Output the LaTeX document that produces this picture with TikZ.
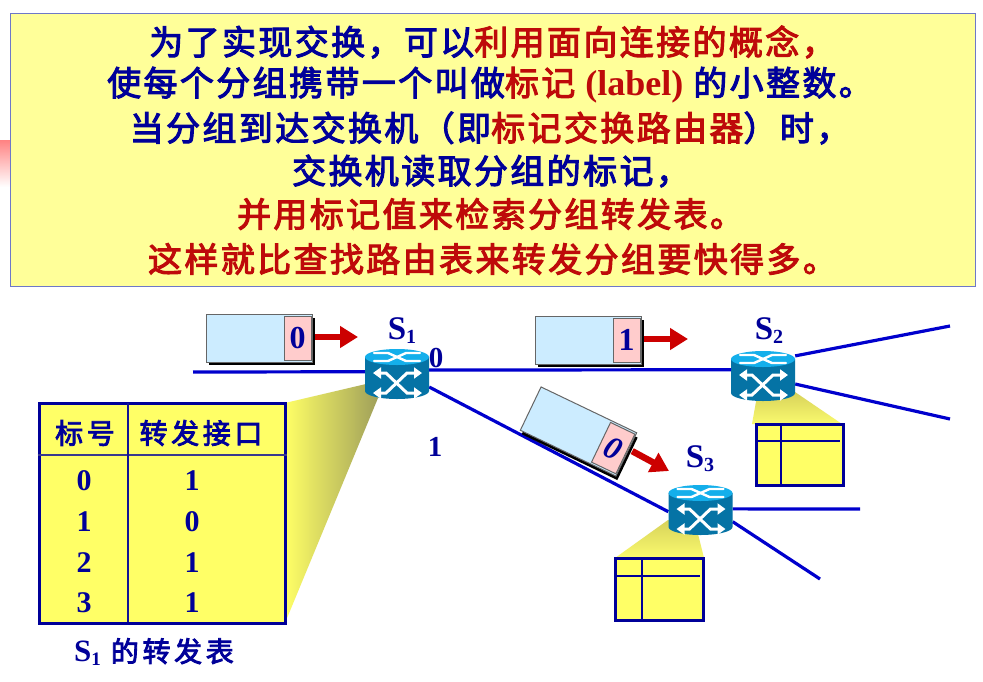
\documentclass[tikz,border=0pt]{standalone}
\usepackage{fontspec}
\setmainfont{Liberation Serif}
\newfontfamily\cjk{Noto Sans CJK SC}[LetterSpace=7,FakeBold=3]
\newfontfamily\cjkt{Noto Sans CJK SC}[LetterSpace=13,FakeBold=3]
\usetikzlibrary{arrows.meta,calc}
\definecolor{navy}{RGB}{0,0,153}
\definecolor{hl}{RGB}{190,10,10}
\definecolor{paper}{RGB}{255,255,153}
\definecolor{cellY}{RGB}{255,255,102}
\definecolor{rtop}{RGB}{20,175,235}
\definecolor{rbody}{RGB}{5,115,165}
\definecolor{wire}{RGB}{0,0,205}
\tikzset{
  x=1pt,y=-1pt,
  headline/.style={font=\cjk\fontsize{34}{34}\selectfont,text=navy,inner sep=0pt,anchor=center},
  rbox/.style={minimum width=64pt,minimum height=50pt,inner sep=0pt,draw=none},
  link/.style={draw=wire,line width=3.2pt},
  bigtab/.style={draw=navy,line width=3pt,fill=cellY},
  tabtext/.style={font=\bfseries\fontsize{30}{30}\selectfont,text=navy,inner sep=0pt},
  tabcn/.style={font=\cjkt\fontsize{28}{28}\selectfont,text=navy,inner sep=0pt},
  slabel/.style={font=\bfseries\fontsize{33}{33}\selectfont,text=navy,inner sep=0pt},
  portlabel/.style={font=\bfseries\fontsize{29}{29}\selectfont,text=navy,inner sep=0pt},
  pktarrow/.style={draw={rgb,255:red,204;green,0;blue,0},line width=6.5pt,-{Triangle[length=18pt,width=21pt]}},
  minit/.style={draw=navy,line width=3pt,fill=cellY},
  conefill/.style={top color={rgb,255:red,215;green,210;blue,90},bottom color={rgb,255:red,250;green,250;blue,110}},
}
\newcommand{\routerpic}[1]{%
  \begin{scope}[shift={(#1)}]
    \fill[rbody] (-32,-17) -- (-32,17) arc[start angle=180,end angle=360,x radius=32,y radius=-8] -- (32,-17) -- cycle;
    \fill[rtop] (0,-17) ellipse[x radius=32,y radius=8];
    \draw[white,line width=2.4pt,line cap=round] (-23,-21) -- (-9,-21) -- (9,-13) -- (23,-13);
    \draw[white,line width=2.4pt,line cap=round] (-23,-13) -- (-9,-13) -- (9,-21) -- (23,-21);
    \draw[white,line width=3pt,{Triangle[length=8pt,width=11pt]}-{Triangle[length=8pt,width=11pt]}] (-24,-1) -- (-11,-1) -- (10,19) -- (25,19);
    \draw[white,line width=3pt,{Triangle[length=8pt,width=11pt]}-{Triangle[length=8pt,width=11pt]}] (-24,19) -- (-11,19) -- (10,-1) -- (25,-1);
  \end{scope}}
\newcommand{\packet}[5]{% name, center, rotation, label, font
  \begin{scope}[shift={(#2)},rotate=#3]
    \fill[black] (-50,-20) rectangle (56,27);
    \draw[black!60,fill={rgb,255:red,204;green,236;blue,255},line width=1pt] (-53,-24) rectangle (53,24);
    \draw[black!60,fill={rgb,255:red,255;green,204;blue,204},line width=1pt] (25,-22) rectangle (52,22);
    \node[rotate=#3,font=#5,text=navy,inner sep=0pt] (#1) at (38.5,0) {#4};
  \end{scope}}
\begin{document}
\begin{tikzpicture}
\useasboundingbox (0,0) rectangle (983,681);
\fill[white] (0,0) rectangle (983,681);
% pink glow
\shade[top color={rgb,255:red,255;green,130;blue,130},bottom color=white] (0,140) rectangle (10,187);
% top panel
\node[draw={rgb,255:red,110;green,120;blue,200},fill=paper,line width=1pt,minimum width=965pt,minimum height=273.5pt,inner sep=0pt] (panel) at (492.5,150) {};
\node[headline] (t1) at (492.5,42) {为了实现交换，可以\textcolor{hl}{利用面向连接的概念，}};
\node[headline] (t2) at (490,85) {使每个分组携带一个叫做\textcolor{hl}{标记 {\rmfamily\bfseries\fontsize{36}{36}\selectfont (label)}} 的小整数。};
\node[headline] (t3) at (490,128) {当分组到达交换机（即\textcolor{hl}{标记交换路由器}）时，};
\node[headline] (t4) at (491,171) {交换机读取分组的标记，};
\node[headline,text=hl] (t5) at (490.5,214) {并用标记值来检索分组转发表。};
\node[headline,text=hl] (t6) at (492.5,259) {这样就比查找路由表来转发分组要快得多。};
% routers (placeholders)
\node[rbox] (s1) at (397,374) {};
\node[rbox] (s2) at (763,376) {};
\node[rbox] (s3) at (700.5,510) {};
% free ends
\coordinate (a) at (193,372);
\coordinate (b) at (950,326);
\coordinate (c) at (950,419);
\coordinate (d) at (860,509);
\coordinate (e) at (820,579);
% links
\draw[link] (a) -- (s1.176);
\draw[link] (s1.7) -- (s2.169);
\draw[link] (s1.-22) -- (s3.183);
\draw[link] (s2.32) -- (b);
\draw[link] (s2.-14) -- (c);
\draw[link] (s3.2) -- (d);
\draw[link] (s3.-20) -- (e);
% big table cone
\shade[left color=cellY,right color={rgb,255:red,160;green,160;blue,90}] (285,403) -- (366,384) -- (378,398) -- (285,623) -- cycle;
% mini cones
\shade[conefill] (752,424) -- (757,396) -- (795,392) -- (842,424) -- cycle;
\shade[conefill] (615,558) -- (668,520) -- (697,530) -- (704,558) -- cycle;
\routerpic{397,374}
\routerpic{763,376}
\routerpic{700.5,510}
\node[slabel] (ls1) at (402,331) {S\raisebox{-4pt}{\fontsize{20}{20}\selectfont 1}};
\node[slabel] (ls2) at (769,331) {S\raisebox{-4pt}{\fontsize{20}{20}\selectfont 2}};
\node[slabel] (ls3) at (700,459) {S\raisebox{-4pt}{\fontsize{20}{20}\selectfont 3}};
\node[portlabel] (p0) at (436,358) {0};
\node[portlabel] (p1) at (435,447) {1};
% packets
\packet{k1}{259,338}{0}{0}{\bfseries\fontsize{32}{32}\selectfont}
\packet{k2}{588,340}{0}{1}{\bfseries\fontsize{32}{32}\selectfont}
\packet{k3}{578.5,431.5}{-25.6}{0}{\bfseries\itshape\fontsize{32}{32}\selectfont}
\coordinate (h1) at (358,337);
\coordinate (h2) at (688,339);
\coordinate (h3) at (669,471);
\draw[pktarrow] (k1.center)++(17,-1) coordinate (g1) (g1) -- (h1);
\draw[pktarrow] (k2.center)++(17,-1) coordinate (g2) (g2) -- (h2);
\draw[pktarrow] (k3.center)++(19,3) coordinate (g3) (g3) -- (h3);
% big table
\node[bigtab,minimum width=246pt,minimum height=220pt,inner sep=0pt] (tab) at (162,513) {};
\draw[navy!55!gray,line width=1.2pt] (tab.west |- 0,455) -- (tab.east |- 0,455);
\draw[navy!85!gray,line width=1.1pt] (128,403) -- (128,622);
\node[tabcn] (h1t) at (85,433) {标号};
\node[tabcn] (h2t) at (201,433) {转发接口};
\foreach \yy/\l/\r in {481/0/1,522/1/0,563/2/1,603/3/1}{
  \node[tabtext] (r\yy a) at (84,\yy) {\l};
  \node[tabtext] (r\yy b) at (192,\yy) {\r};
}
\node[tabcn,anchor=center] (cap) at (154,652) {{\rmfamily\bfseries\fontsize{31}{31}\selectfont S\raisebox{-4pt}{\fontsize{19}{19}\selectfont 1}} 的转发表};
% mini tables
\draw[minit] (756,424) rectangle (843.5,485);
\draw[navy,line width=1.5pt] (756,441) -- (840,441);
\draw[navy,line width=1.8pt] (781,424) -- (781,485);
\draw[minit] (615,558) rectangle (703.5,620);
\draw[navy,line width=1.5pt] (615,576) -- (700,576);
\draw[navy,line width=1.8pt] (642,558) -- (642,620);
\end{tikzpicture}
\end{document}
